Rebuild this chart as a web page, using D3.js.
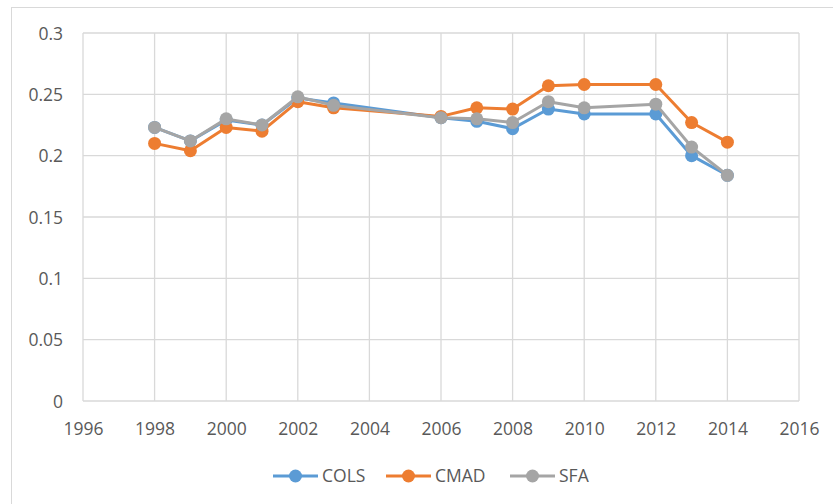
<!DOCTYPE html>
<html>
<head>
<meta charset="utf-8">
<script src="https://cdn.jsdelivr.net/npm/d3@7"></script>
<style>
  html, body { margin: 0; padding: 0; background: #fff; }
  svg { display: block; }
  text { font-family: "Open Sans", "Liberation Sans", sans-serif; fill: #595959; }
</style>
</head>
<body>
<svg id="chart" width="833" height="504"></svg>
<script>
const years = [1998, 1999, 2000, 2001, 2002, 2003, 2006, 2007, 2008, 2009, 2010, 2012, 2013, 2014];
const cols = [0.223, 0.212, 0.229, 0.225, 0.247, 0.243, 0.231, 0.228, 0.222, 0.238, 0.234, 0.234, 0.200, 0.184];
const cmad = [0.210, 0.204, 0.223, 0.220, 0.244, 0.239, 0.232, 0.239, 0.238, 0.257, 0.258, 0.258, 0.227, 0.211];
const sfa  = [0.223, 0.212, 0.230, 0.225, 0.248, 0.241, 0.231, 0.230, 0.227, 0.244, 0.239, 0.242, 0.207, 0.184];
const seriesNames = ["COLS", "CMAD", "SFA"];
const seriesColors = ["#5B9BD5", "#ED7D31", "#A5A5A5"];
const xTicks = [1996, 1998, 2000, 2002, 2004, 2006, 2008, 2010, 2012, 2014, 2016];
const yTicks = [0, 0.05, 0.1, 0.15, 0.2, 0.25, 0.3];

const svg = d3.select("#chart");
// outer chart border
svg.append("rect").attr("x", 11.5).attr("y", 7.5).attr("width", 840).attr("height", 520)
  .attr("fill", "none").attr("stroke", "#D9D9D9").attr("stroke-width", 1);

const x = d3.scaleLinear().domain([1996, 2016]).range([83, 799]);
const y = d3.scaleLinear().domain([0, 0.3]).range([401, 33]);

// gridlines
const g = svg.append("g");
g.selectAll(".hg").data(yTicks).enter().append("line")
  .attr("x1", x(1996)).attr("x2", x(2016))
  .attr("y1", d => y(d)).attr("y2", d => y(d))
  .attr("stroke", "#D9D9D9").attr("stroke-width", 1.3);
g.selectAll(".vg").data(xTicks).enter().append("line")
  .attr("x1", d => x(d)).attr("x2", d => x(d))
  .attr("y1", y(0)).attr("y2", y(0.3))
  .attr("stroke", "#D9D9D9").attr("stroke-width", 1.3);

// axes using d3 axes (labels only)
const yAxis = svg.append("g").attr("transform", `translate(${x(1996)},0)`)
  .call(d3.axisLeft(y).tickValues(yTicks).tickFormat(d => String(+d.toFixed(2))).tickSize(0).tickPadding(20));
yAxis.select(".domain").remove();
yAxis.selectAll("text").style("font-size", "17.5px").attr("fill", "#595959").attr("dy", "0.35em");

const xAxis = svg.append("g").attr("transform", `translate(0,${y(0)})`)
  .call(d3.axisBottom(x).tickValues(xTicks).tickFormat(d3.format("d")).tickSize(0).tickPadding(22));
xAxis.select(".domain").remove();
xAxis.selectAll("text").style("font-size", "17.5px").attr("fill", "#595959");

const allSeries = [cols, cmad, sfa];
const line = d3.line().x((d, i) => x(years[i])).y(d => y(d));

allSeries.forEach((vals, si) => {
  const sg = svg.append("g");
  sg.append("path").datum(vals).attr("d", line)
    .attr("fill", "none").attr("stroke", seriesColors[si]).attr("stroke-width", 3)
    .attr("stroke-linejoin", "round");
  sg.selectAll("circle").data(vals).enter().append("circle")
    .attr("cx", (d, i) => x(years[i])).attr("cy", d => y(d)).attr("r", 6.5)
    .attr("fill", seriesColors[si]);
});

// legend
const legendX = [273, 386, 510];
const legendY = 476;
seriesNames.forEach((name, i) => {
  const lg = svg.append("g").attr("transform", `translate(${legendX[i]},${legendY})`);
  lg.append("line").attr("x1", 0).attr("x2", 45).attr("y1", 0).attr("y2", 0)
    .attr("stroke", seriesColors[i]).attr("stroke-width", 3);
  lg.append("circle").attr("cx", 22.5).attr("cy", 0).attr("r", 6.5).attr("fill", seriesColors[i]);
  lg.append("text").attr("x", 49).attr("y", 0).attr("dy", "0.35em")
    .style("font-size", "17.5px").text(name);
});
</script>
</body>
</html>
